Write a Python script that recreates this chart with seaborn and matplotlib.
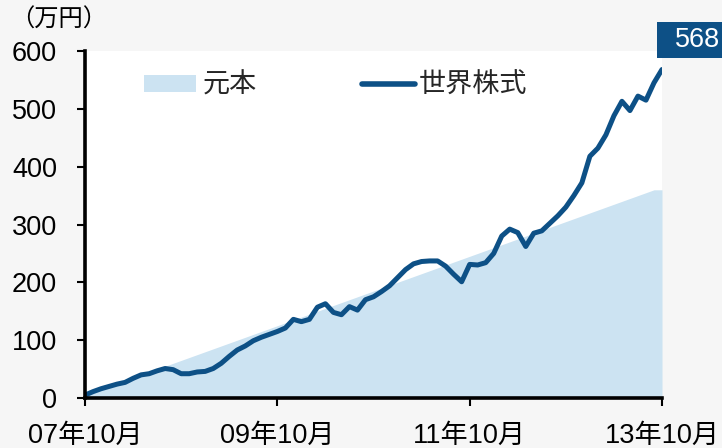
import matplotlib
matplotlib.use("Agg")
import matplotlib.pyplot as plt
import seaborn as sns
import pandas as pd
from matplotlib.patches import Patch, Rectangle
from matplotlib.lines import Line2D

months = list(range(73))
principal = [5, 10, 15, 20, 25, 30, 35, 40, 45, 50, 55, 60, 65, 70, 75, 80, 85, 90,
             95, 100, 105, 110, 115, 120, 125, 130, 135, 140, 145, 150, 155, 160, 165,
             170, 175, 180, 185, 190, 195, 200, 205, 210, 215, 220, 225, 230, 235, 240,
             245, 250, 255, 260, 265, 270, 275, 280, 285, 290, 295, 300, 305, 310, 315,
             320, 325, 330, 335, 340, 345, 350, 355, 360, 360]
stocks = [5, 11, 16, 20, 24, 27, 34, 40, 42, 47, 51, 49, 42, 42, 45, 46, 51, 60, 72,
          83, 90, 99, 105, 110, 115, 121, 136, 132, 136, 157, 163, 148, 144, 158, 152,
          170, 175, 184, 194, 208, 222, 232, 236, 237, 237, 228, 214, 201, 231, 230,
          234, 250, 280, 292, 286, 262, 285, 289, 302, 315, 330, 350, 372, 418, 432,
          455, 488, 513, 497, 522, 515, 545, 568]
xtick_pos = [0, 24, 48, 72]
xtick_labels = ["07年10月", "09年10月", "11年10月", "13年10月"]
yticks = [0, 100, 200, 300, 400, 500, 600]
series_names = ["元本", "世界株式"]
end_label = "568"

df = pd.DataFrame({"month": months, "principal": principal, "stocks": stocks})

sns.set_theme(style="white")
plt.rcParams["font.family"] = ["Liberation Sans", "Noto Sans CJK JP", "DejaVu Sans"]

AREA = "#cce3f2"
LINE = "#0d5086"
BG = "#f6f6f6"
FS = 19.5

W, H = 722, 448
fig = plt.figure(figsize=(W / 100, H / 100), dpi=100, facecolor=BG)
ax = fig.add_axes([85 / W, 1 - 398 / H, 577 / W, 347 / H])
ax.set_facecolor("white")

ax.fill_between(df["month"], 0, df["principal"], color=AREA, linewidth=0, zorder=1)
sns.lineplot(data=df, x="month", y="stocks", color=LINE, linewidth=3.6, ax=ax,
             zorder=3, solid_capstyle="round", solid_joinstyle="round")

ax.set_xlim(0, 72)
ax.set_ylim(0, 600)
ax.set_xticks(xtick_pos)
ax.set_xticklabels(xtick_labels, fontsize=FS)
ax.set_yticks(yticks)
ax.set_yticklabels([str(v) for v in yticks], fontsize=FS)
ax.set_xlabel("")
ax.set_ylabel("")
for s in ["top", "right"]:
    ax.spines[s].set_visible(False)
for s in ["left", "bottom"]:
    ax.spines[s].set_color("black")
    ax.spines[s].set_linewidth(2.6)
    ax.spines[s].set_zorder(5)
ax.tick_params(axis="both", direction="out", length=6, width=1.5, color="black",
               labelcolor="black", left=True, bottom=True)
ax.tick_params(axis="y", pad=14)
ax.tick_params(axis="x", pad=12)

leg1 = ax.legend(handles=[Patch(facecolor=AREA, edgecolor="none")], labels=[series_names[0]],
                 loc="center left", bbox_to_anchor=((144 - 85) / 577, (398 - 86) / 347),
                 frameon=False, fontsize=FS, handlelength=1.92, handleheight=0.6,
                 handletextpad=0.25, borderaxespad=0, borderpad=0)
ax.add_artist(leg1)
ax.legend(handles=[Line2D([0], [0], color=LINE, linewidth=4, solid_capstyle="round")],
          labels=[series_names[1]], loc="center left",
          bbox_to_anchor=((362 - 85) / 577, (398 - 86) / 347),
          frameon=False, fontsize=FS, handlelength=1.95, handletextpad=0.15,
          borderaxespad=0, borderpad=0)

fig.text(10 / W, 1 - 20 / H, "（万円）", fontsize=17.5, va="center", ha="left",
         color="black")
fig.patches.append(Rectangle((657 / W, 1 - 58 / H), 70 / W, 36 / H,
                             transform=fig.transFigure, facecolor=LINE,
                             edgecolor="none", zorder=4))
fig.text(675 / W, 1 - 40 / H, end_label, fontsize=FS, va="center", ha="left",
         color="white", zorder=5)

fig.savefig("out.png", dpi=100, facecolor=BG)
